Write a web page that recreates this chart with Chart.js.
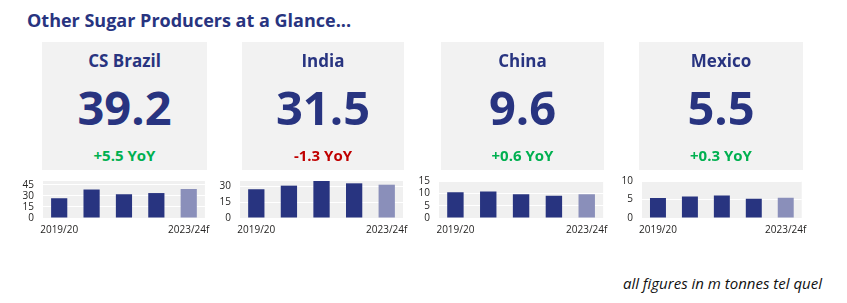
<!DOCTYPE html>
<html>
<head>
<meta charset="utf-8">
<script src="https://cdn.jsdelivr.net/npm/chart.js@4"></script>
<style>
  body { margin: 0; background: #fff; font-family: "Open Sans", sans-serif; }
  #page { position: relative; width: 847px; height: 303px; overflow: hidden; }
  .title { position: absolute; left: 27px; top: 8px; font-size: 18px; font-weight: 700; color: #283480; white-space: nowrap; }
  .card { position: absolute; top: 42px; height: 128px; background: #f2f2f2; text-align: center; }
  .card .name { position: absolute; left: 0; right: 0; top: 7px; font-size: 17px; font-weight: 700; color: #283480; line-height: 24px; }
  .card .big { position: absolute; left: 0; right: 0; top: 33px; font-size: 47px; font-weight: 700; color: #283480; line-height: 64px; }
  .card .yoy { position: absolute; left: 0; right: 0; top: 102px; font-size: 15px; font-weight: 700; line-height: 22px; }
  .chartbox { position: absolute; top: 172px; line-height: 0; }
  .chartbox canvas { display: block; }
  .note { position: absolute; right: 25px; top: 273px; font-size: 15px; font-style: italic; color: #111; white-space: nowrap; }
</style>
</head>
<body>
<div id="page">
  <div class="title">Other Sugar Producers at a Glance...</div>
  <div class="note">all figures in m tonnes tel quel</div>
</div>
<script>
// categories + values
const seasons = ['2019/20', '2020/21', '2021/22', '2022/23', '2023/24f'];
const producers = ['CS Brazil', 'India', 'China', 'Mexico'];
const brazilValues = [26.7, 38.5, 32.1, 33.7, 39.2];
const indiaValues = [27.2, 30.6, 35.1, 32.8, 31.5];
const chinaValues = [10.4, 10.7, 9.6, 9.0, 9.6];
const mexicoValues = [5.4, 5.8, 6.1, 5.2, 5.5];
const yoyChanges = [5.5, -1.3, 0.6, 0.3];
const axisMax = [50, 35, 15, 10];
const axisStep = [15, 15, 5, 5];

const seriesList = [brazilValues, indiaValues, chinaValues, mexicoValues];

// layout of the four panels (card box and plot area)
const cardLeft = [42, 242, 441, 639];
const cardWidth = [165, 162, 163, 164];
const plotLeft = [43, 240, 439, 642];
const plotRight = [205, 403, 603, 802];
const plotTop = 181;
const plotBottom = 218;
const yAxisWidth = 26;

const navy = '#283480';
const forecastColor = '#8a8fba';

// grey background behind the plot area
const plotBg = {
    id: 'plotBg',
    beforeDraw(chart) {
        const a = chart.chartArea;
        const ctx = chart.ctx;
        ctx.save();
        ctx.fillStyle = '#f0f0f0';
        ctx.fillRect(a.left, a.top, a.right - a.left, a.bottom - a.top);
        ctx.restore();
    }
};

const page = document.getElementById('page');

for (let i = 0; i < producers.length; i++) {
    let values = seriesList[i];

    // summary card
    let card = document.createElement('div');
    card.className = 'card';
    card.style.left = cardLeft[i] + 'px';
    card.style.width = cardWidth[i] + 'px';
    let change = yoyChanges[i];
    card.innerHTML =
        '<div class="name">' + producers[i] + '</div>' +
        '<div class="big">' + values[values.length - 1].toFixed(1) + '</div>' +
        '<div class="yoy" style="color:' + (change >= 0 ? '#00b050' : '#c00000') + '">' +
        (change >= 0 ? '+' : '') + change.toFixed(1) + ' YoY</div>';
    page.appendChild(card);

    // little bar chart
    let box = document.createElement('div');
    box.className = 'chartbox';
    let w = 200, h = 70;
    let canvas = document.createElement('canvas');
    canvas.width = w;
    canvas.height = h;
    canvas.style.width = w + 'px';
    canvas.style.height = h + 'px';
    box.appendChild(canvas);
    page.appendChild(box);

    let colors = values.map((v, j) => j === values.length - 1 ? forecastColor : navy);
    let step = axisStep[i];

    let chart = new Chart(canvas.getContext('2d'), {
        type: 'bar',
        data: {
            labels: seasons,
            datasets: [{
                data: values,
                backgroundColor: colors,
                borderWidth: 0,
                categoryPercentage: 1,
                barPercentage: 0.5
            }]
        },
        options: {
            responsive: false,
            maintainAspectRatio: false,
            animation: false,
            layout: { padding: { top: 7, right: 10, left: 0, bottom: 0 } },
            plugins: { legend: { display: false }, tooltip: { enabled: false } },
            scales: {
                x: {
                    grid: { display: false, drawTicks: false },
                    border: { display: false },
                    ticks: {
                        autoSkip: false,
                        maxRotation: 0,
                        padding: 6,
                        color: '#252423',
                        font: { family: 'Open Sans', size: 10 },
                        callback: function (val, idx) {
                            return (idx === 0 || idx === seasons.length - 1) ? seasons[idx] : '';
                        }
                    }
                },
                y: {
                    min: 0,
                    max: axisMax[i],
                    afterBuildTicks: function (axis) {
                        axis.ticks = axis.ticks.filter(t => t.value % step === 0);
                    },
                    afterFit: function (axis) { axis.width = yAxisWidth; },
                    grid: { color: '#ffffff', lineWidth: 1, drawTicks: false },
                    border: { display: false },
                    ticks: {
                        stepSize: step,
                        includeBounds: false,
                        autoSkip: false,
                        padding: 9,
                        color: '#252423',
                        font: { family: 'Open Sans', size: 10 }
                    }
                }
            }
        },
        plugins: [plotBg]
    });

    // size the canvas so the plot area lands where it sits in the picture
    let a = chart.chartArea;
    let newW = (plotRight[i] - plotLeft[i]) + (w - (a.right - a.left));
    let newH = (plotBottom - plotTop) + (h - (a.bottom - a.top));
    chart.resize(newW, newH);
    a = chart.chartArea;
    box.style.left = (plotLeft[i] - a.left) + 'px';
    box.style.top = (plotTop - a.top) + 'px';
}
</script>
</body>
</html>
